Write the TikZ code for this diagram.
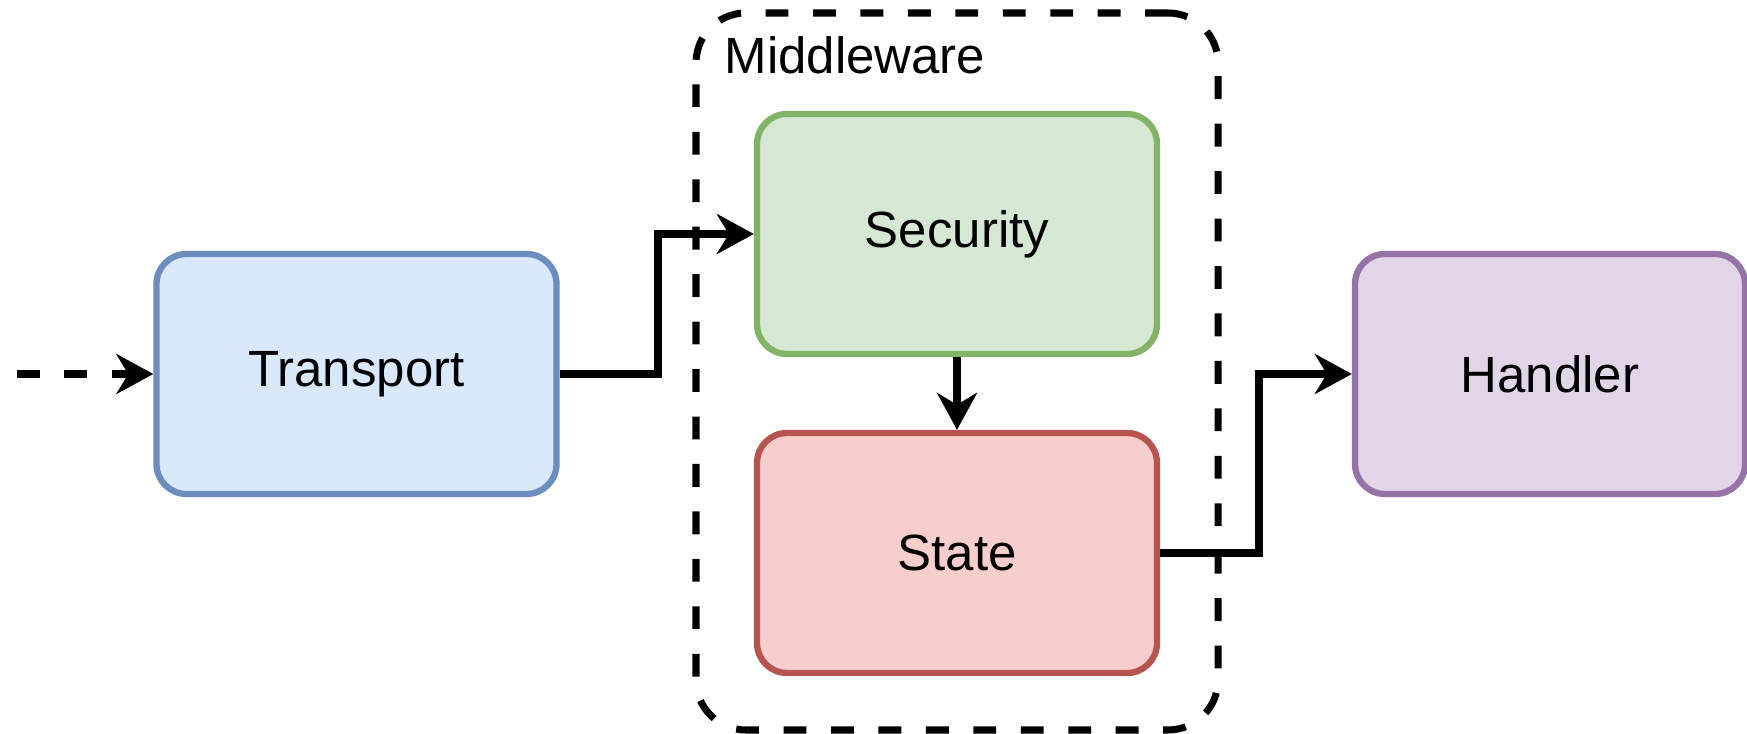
\documentclass[tikz,border=0pt]{standalone}
\usepackage{fontspec}
\setmainfont{Liberation Sans}
\usetikzlibrary{arrows.meta}

\definecolor{bluefill}{HTML}{DAE8FC}
\definecolor{blueline}{HTML}{6C8EBF}
\definecolor{greenfill}{HTML}{D5E8D4}
\definecolor{greenline}{HTML}{82B366}
\definecolor{redfill}{HTML}{F8CECC}
\definecolor{redline}{HTML}{B85450}
\definecolor{purplefill}{HTML}{E1D5E7}
\definecolor{purpleline}{HTML}{9673A6}

\tikzset{
    block/.style={draw, line width=1.8pt, rounded corners=0.3cm,
        minimum width=4.0cm, minimum height=2.4cm,
        font=\fontsize{14.5}{17}\selectfont},
    mwbox/.style={draw, line width=2pt, rounded corners=0.5cm,
        dash pattern=on 6.5pt off 7pt,
        minimum width=5.22cm, minimum height=7.17cm},
    flow/.style={line width=2.2pt,
        -{Stealth[length=0.37cm, width=0.4cm, inset=0.12cm]}},
}

\begin{document}
\begin{tikzpicture}
    \useasboundingbox (0, 0) rectangle (17.47, -7.34);
    \node[mwbox] (mw) at (9.57, -3.715) {};
    \node[anchor=north west, inner sep=0pt,
        font=\fontsize{14.5}{17}\selectfont]
        (mwlabel) at (7.24, -0.36) {Middleware};
    \node[block, fill=bluefill, draw=blueline] (transport) at (3.565, -3.74) {Transport};
    \node[block, fill=greenfill, draw=greenline] (security) at (9.57, -2.34) {Security};
    \node[block, fill=redfill, draw=redline] (state) at (9.57, -5.53) {State};
    \node[block, fill=purplefill, draw=purpleline, minimum width=3.9cm] (handler) at (15.5, -3.74) {Handler};
    \coordinate (src) at (0.17, -3.74);
    \draw[flow, dash pattern=on 6.5pt off 7pt] (src) -- (transport.west);
    \draw[flow] (transport.east) -- ++(0.98, 0) |- (security.west);
    \draw[flow] (security.south) -- (state.north);
    \draw[flow] (state.east) -- ++(0.99, 0) |- (handler.west);
\end{tikzpicture}
\end{document}
